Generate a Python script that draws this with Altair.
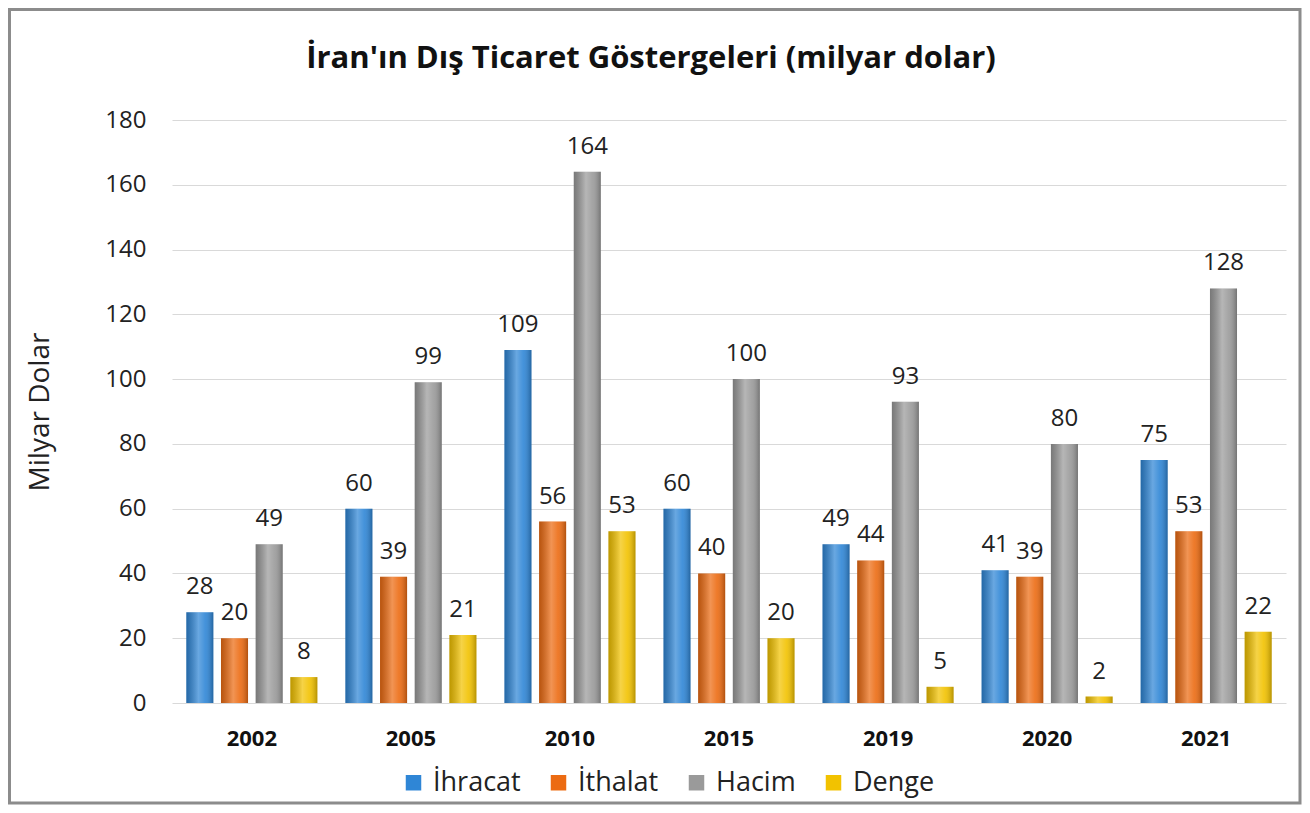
import altair as alt
import pandas as pd

years = ["2002", "2005", "2010", "2015", "2019", "2020", "2021"]
series = ["İhracat", "İthalat", "Hacim", "Denge"]
ihracat = [28, 60, 109, 60, 49, 41, 75]
ithalat = [20, 39, 56, 40, 44, 39, 53]
hacim = [49, 99, 164, 100, 93, 80, 128]
denge = [8, 21, 53, 20, 5, 2, 22]
colors = ["#2f86d6", "#ec6b12", "#9a9a9a", "#f2c200"]
title_text = "İran'ın Dış Ticaret Göstergeleri  (milyar dolar)"

rows = []
for name, vals in zip(series, [ihracat, ithalat, hacim, denge]):
    for y, v in zip(years, vals):
        rows.append({"year": y, "series": name, "value": v})
df = pd.DataFrame(rows)

FONT = "Open Sans"
W, H = 1114, 583

x_enc = alt.X("year:N", sort=years, title=None,
              scale=alt.Scale(paddingInner=0.176, paddingOuter=0.09),
              axis=alt.Axis(labelFontSize=22, labelFontWeight="bold", labelColor="#111",
                            labelAngle=0, ticks=False, domain=False, labelPadding=25,
                            labelFont=FONT))
xo_enc = alt.XOffset("series:N", sort=series, scale=alt.Scale(paddingInner=0.22, paddingOuter=0))
y_enc = alt.Y("value:Q", title="Milyar Dolar",
              scale=alt.Scale(domain=[0, 180]),
              axis=alt.Axis(values=list(range(0, 181, 20)), labelFontSize=24, labelColor="#222",
                            ticks=False, domain=False, labelPadding=26, gridColor="#d9d9d9",
                            titleFontSize=28, titleFontWeight="normal", titleColor="#222",
                            titlePadding=50, labelFont=FONT, titleFont=FONT))

base = alt.Chart(df)

bars = base.mark_bar().encode(
    x=x_enc, xOffset=xo_enc, y=y_enc,
    color=alt.Color("series:N", sort=series,
                    scale=alt.Scale(domain=series, range=colors),
                    legend=alt.Legend(title=None, orient="none", direction="horizontal",
                                      legendX=228, legendY=649,
                                      labelFontSize=27, labelFont=FONT, labelColor="#222",
                                      symbolType="square", symbolSize=240, symbolStrokeWidth=0,
                                      columnPadding=24, labelOffset=6)),
)

shade = base.mark_bar(
    color=alt.Gradient(
        gradient="linear", x1=0, x2=1, y1=0, y2=0,
        stops=[alt.GradientStop(color="rgba(0,0,0,0.22)", offset=0),
               alt.GradientStop(color="rgba(255,255,255,0.28)", offset=0.45),
               alt.GradientStop(color="rgba(255,255,255,0.1)", offset=0.7),
               alt.GradientStop(color="rgba(0,0,0,0.25)", offset=1)])
).encode(x=x_enc, xOffset=xo_enc, y=y_enc)

labels = base.mark_text(fontSize=24, font=FONT, color="#222", baseline="alphabetic", dy=-18).encode(
    x=x_enc, xOffset=xo_enc, y=y_enc, text="value:Q")

one = pd.DataFrame({"t": [title_text]})

title_mark = alt.Chart(one).mark_text(
    fontSize=31, font=FONT, fontWeight="bold", color="#111", align="center", baseline="alphabetic"
).encode(x=alt.value(479), y=alt.value(-52), text="t:N")

frame = alt.Chart(one).mark_rect(
    fill="transparent", stroke="#8c8c8c", strokeWidth=3, clip=False
).encode(x=alt.value(-162.5), x2=alt.value(1128), y=alt.value(-110.5), y2=alt.value(683))

chart = alt.layer(bars, shade, labels, title_mark, frame).properties(
    width=W, height=H,
    padding={"left": 164, "top": 112, "right": 16, "bottom": 102},
    autosize=alt.AutoSizeParams(type="none"),
).configure(background="white").configure_view(stroke=None)

chart.save("out.html", embed_options={"renderer": "svg", "actions": False})
